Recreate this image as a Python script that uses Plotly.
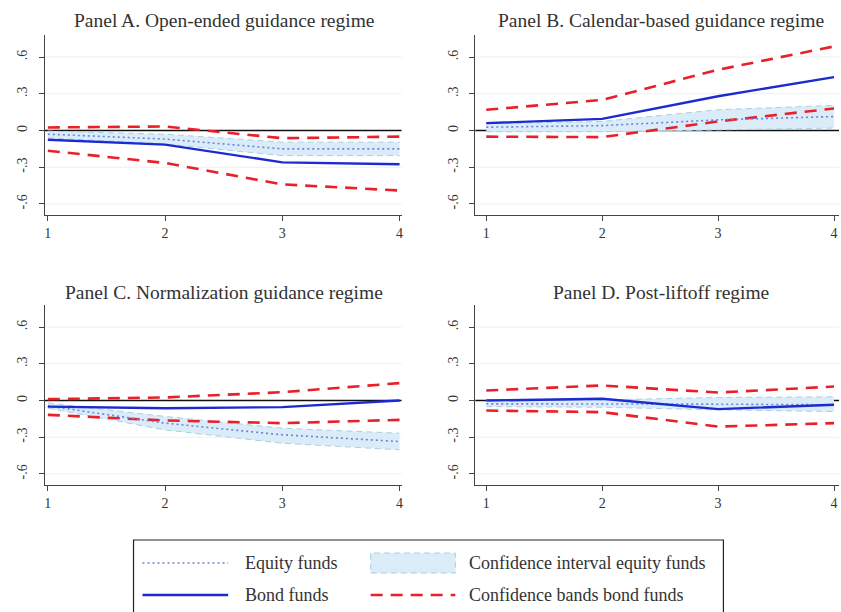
import plotly.graph_objects as go

W, H = 841, 612

# Horizon (x values shared by all panels)
horizon = [1, 2, 3, 4]

# Panel A: open-ended guidance
eq_A = [-0.03, -0.07, -0.15, -0.15]
eq_lo_A = [-0.06, -0.11, -0.205, -0.205]
eq_hi_A = [-0.005, -0.03, -0.095, -0.095]
bond_A = [-0.075, -0.115, -0.26, -0.275]
bond_lo_A = [-0.165, -0.265, -0.44, -0.49]
bond_hi_A = [0.025, 0.033, -0.063, -0.05]

# Panel B: calendar-based guidance
eq_B = [0.027, 0.04, 0.087, 0.114]
eq_lo_B = [-0.01, -0.01, 0.005, 0.02]
eq_hi_B = [0.055, 0.074, 0.17, 0.205]
bond_B = [0.06, 0.095, 0.28, 0.436]
bond_lo_B = [-0.05, -0.054, 0.074, 0.18]
bond_hi_B = [0.169, 0.25, 0.496, 0.687]

# Panel C: normalization guidance
eq_C = [-0.044, -0.185, -0.28, -0.335]
eq_lo_C = [-0.063, -0.24, -0.349, -0.403]
eq_hi_C = [-0.02, -0.13, -0.226, -0.267]
bond_C = [-0.05, -0.063, -0.054, 0.0]
bond_lo_C = [-0.117, -0.163, -0.185, -0.158]
bond_hi_C = [0.011, 0.025, 0.068, 0.142]

# Panel D: post-liftoff
eq_D = [-0.027, -0.027, -0.03, -0.035]
eq_lo_D = [-0.05, -0.055, -0.076, -0.09]
eq_hi_D = [0.0, 0.005, 0.025, 0.03]
bond_D = [0.0, 0.014, -0.07, -0.035]
bond_lo_D = [-0.082, -0.095, -0.213, -0.185]
bond_hi_D = [0.082, 0.123, 0.065, 0.114]

titles = [
    "Panel A. Open-ended guidance regime",
    "Panel B. Calendar-based guidance regime",
    "Panel C. Normalization guidance regime",
    "Panel D. Post-liftoff regime",
]
y_tickvals = [-0.6, -0.3, 0, 0.3, 0.6]
y_ticktext = ["-.6", "-.3", "0", ".3", ".6"]
x_ticktext = ["1", "2", "3", "4"]

legend_labels = ["Equity funds", "Bond funds",
                 "Confidence interval equity funds", "Confidence bands bond funds"]

FONT = "Liberation Serif"
C_EQ = "#6f7fe0"
C_BOND = "#1c2bd0"
C_RED = "#e8202a"
C_FILL = "#d9ecf8"
C_FILL_EDGE = "#a9cfe2"
C_TEXT = "#333333"


def px(x):
    return x / W


def py(y):
    return 1 - y / H


panels = [
    (eq_A, eq_lo_A, eq_hi_A, bond_A, bond_lo_A, bond_hi_A),
    (eq_B, eq_lo_B, eq_hi_B, bond_B, bond_lo_B, bond_hi_B),
    (eq_C, eq_lo_C, eq_hi_C, bond_C, bond_lo_C, bond_hi_C),
    (eq_D, eq_lo_D, eq_hi_D, bond_D, bond_lo_D, bond_hi_D),
]

# pixel layout of the four plot regions: (x0, x1), (y_top, y_bottom), x range
left_x = (44, 402)
right_x = (476, 841)
top_y = (35, 215)
bot_y = (305, 485)
left_range = [1 - 3 / 117.67, 4 + 2 / 117.67]
right_range = [1 - 11 / 116.33, 4 + 5 / 116.33]
regions = [
    (left_x, top_y, left_range),
    (right_x, top_y, right_range),
    (left_x, bot_y, left_range),
    (right_x, bot_y, right_range),
]
title_pos = [(224, 21), (662, 21), (224, 292), (662, 292)]

fig = go.Figure()

for i, (eq, eq_lo, eq_hi, bond, bond_lo, bond_hi) in enumerate(panels):
    n = "" if i == 0 else str(i + 1)
    xa, ya = "x" + n, "y" + n
    # faint horizontal grid, then the zero reference line, all beneath the traces
    for g in y_tickvals:
        if g == 0:
            continue
        fig.add_shape(type="line", xref=xa + " domain", yref=ya, x0=0, x1=1, y0=g, y1=g,
                      line=dict(color="#eeeeee", width=1), layer="below")
    fig.add_shape(type="line", xref=xa + " domain", yref=ya, x0=0, x1=1, y0=0, y1=0,
                  line=dict(color="#111111", width=1.6), layer="below")
    # equity confidence interval band
    fig.add_trace(go.Scatter(x=horizon, y=eq_lo, xaxis=xa, yaxis=ya, mode="lines",
                             line=dict(color=C_FILL_EDGE, width=1, dash="6px,4px"),
                             showlegend=False, hoverinfo="skip"))
    fig.add_trace(go.Scatter(x=horizon, y=eq_hi, xaxis=xa, yaxis=ya, mode="lines",
                             fill="tonexty", fillcolor=C_FILL,
                             line=dict(color=C_FILL_EDGE, width=1, dash="6px,4px"),
                             showlegend=False, hoverinfo="skip"))
    # bond confidence bands
    for band in (bond_lo, bond_hi):
        fig.add_trace(go.Scatter(x=horizon, y=band, xaxis=xa, yaxis=ya, mode="lines",
                                 line=dict(color=C_RED, width=2.6, dash="12px,8px"),
                                 showlegend=False))
    # equity funds
    fig.add_trace(go.Scatter(x=horizon, y=eq, xaxis=xa, yaxis=ya, mode="lines",
                             line=dict(color=C_EQ, width=1.6, dash="2px,3px"),
                             showlegend=False))
    # bond funds
    fig.add_trace(go.Scatter(x=horizon, y=bond, xaxis=xa, yaxis=ya, mode="lines",
                             line=dict(color=C_BOND, width=2.4),
                             showlegend=False))

    (x0, x1), (yt, yb), xr = regions[i]
    fig.update_layout(**{
        "xaxis" + n: dict(domain=[px(x0), px(x1)], anchor=ya, range=xr,
                          tickvals=horizon, ticktext=x_ticktext,
                          showline=True, linecolor="#444", linewidth=1.2,
                          ticks="outside", ticklen=5, tickcolor="#444",
                          showgrid=False, zeroline=False,
                          ticklabeloverflow="allow",
                          tickfont=dict(family=FONT, size=14, color=C_TEXT)),
        "yaxis" + n: dict(domain=[py(yb), py(yt)], anchor=xa, range=[-0.69, 0.78],
                          tickvals=y_tickvals, ticktext=y_ticktext, tickangle=-90,
                          showline=True, linecolor="#444", linewidth=1.2,
                          ticks="outside", ticklen=5, tickcolor="#444",
                          showgrid=False, zeroline=False,
                          ticklabelstandoff=6,
                          tickfont=dict(family=FONT, size=14, color=C_TEXT)),
    })
    tx, ty = title_pos[i]
    fig.add_annotation(text=titles[i], x=px(tx), y=py(ty), xref="paper", yref="paper",
                       showarrow=False, xanchor="center", yanchor="middle",
                       font=dict(family=FONT, size=19.5, color=C_TEXT))

# legend box with its four keys
shapes = [
    dict(type="rect", xref="paper", yref="paper", x0=px(133), x1=px(725),
         y0=py(650), y1=py(540), line=dict(color="#222", width=1.2), fillcolor="white"),
    dict(type="line", xref="paper", yref="paper", x0=px(142), x1=px(228),
         y0=py(563), y1=py(563), line=dict(color=C_EQ, width=1.6, dash="2px,3px")),
    dict(type="line", xref="paper", yref="paper", x0=px(142), x1=px(228),
         y0=py(595), y1=py(595), line=dict(color=C_BOND, width=2.6)),
    dict(type="rect", xref="paper", yref="paper", x0=px(371), x1=px(456),
         y0=py(573), y1=py(553), fillcolor=C_FILL,
         line=dict(color=C_FILL_EDGE, width=1, dash="6px,4px")),
    dict(type="line", xref="paper", yref="paper", x0=px(371), x1=px(456),
         y0=py(595), y1=py(595), line=dict(color=C_RED, width=2.6, dash="12px,8px")),
]
for s in shapes:
    fig.add_shape(**s)

for label, (lx, ly) in zip(legend_labels, [(243, 563), (243, 595), (468, 563), (468, 595)]):
    fig.add_annotation(text=label, x=px(lx), y=py(ly), xref="paper", yref="paper",
                       showarrow=False, xanchor="left", yanchor="middle",
                       font=dict(family=FONT, size=18, color=C_TEXT))

fig.update_layout(width=W, height=H, margin=dict(l=0, r=0, t=0, b=0),
                  paper_bgcolor="white", plot_bgcolor="white", showlegend=False)

fig.write_html("out.html")
